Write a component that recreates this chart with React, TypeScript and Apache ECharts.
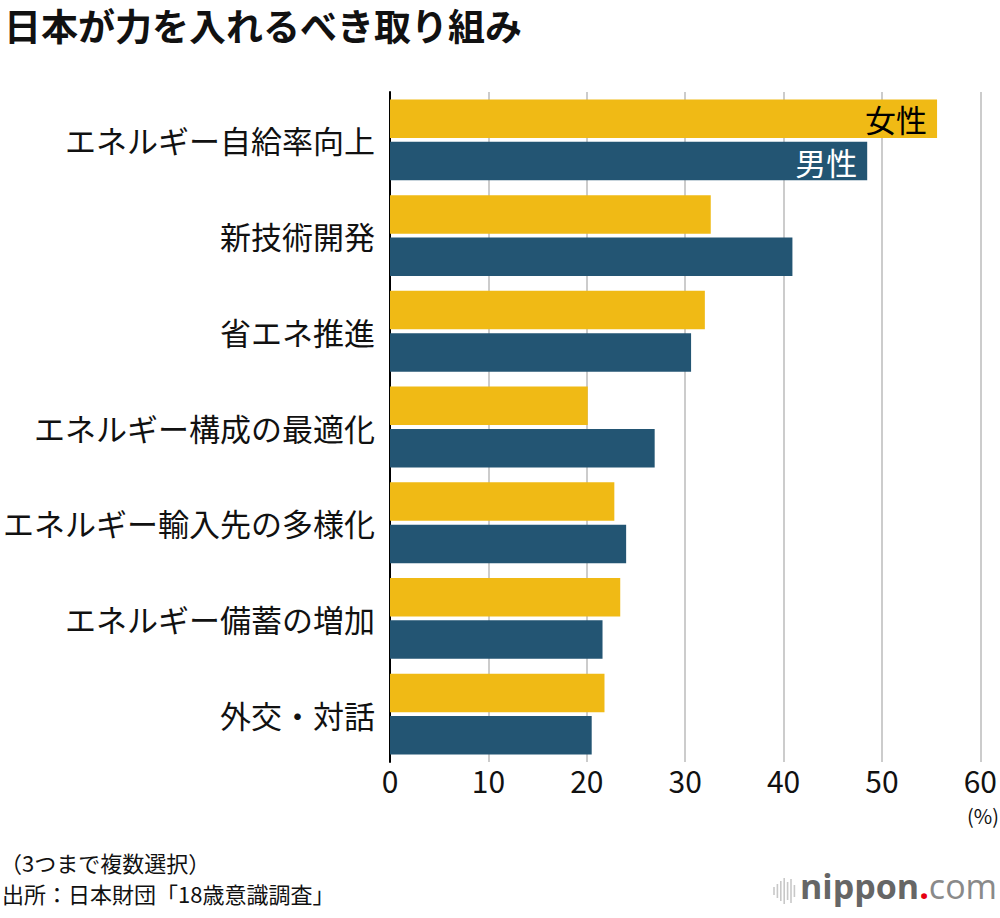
import React, { useEffect, useRef } from "react";
import * as echarts from "echarts";

// Categories, top to bottom
const categories = [
  "エネルギー自給率向上",
  "新技術開発",
  "省エネ推進",
  "エネルギー構成の最適化",
  "エネルギー輸入先の多様化",
  "エネルギー備蓄の増加",
  "外交・対話",
];

const femaleValues = [55.6, 32.6, 32.0, 20.1, 22.8, 23.4, 21.8];
const maleValues = [48.5, 40.9, 30.6, 26.9, 24.0, 21.6, 20.5];

const xTicks = [0, 10, 20, 30, 40, 50, 60];

const FONT = '"Noto Sans CJK JP", "Noto Sans", sans-serif';
const YELLOW = "#F0BA15";
const BLUE = "#235573";

const App: React.FC = () => {
  const chartRef = useRef<HTMLDivElement>(null);

  useEffect(() => {
    if (!chartRef.current) return;
    const chart = echarts.init(chartRef.current, undefined, { renderer: "svg" });

    // logo bars (decorative)
    const logoBars = [8, 14, 20, 26, 18, 24, 12].map((h, i) => ({
      type: "line",
      shape: { x1: 774 + i * 3.4, y1: 891 - h / 2, x2: 774 + i * 3.4, y2: 891 + h / 2 },
      style: { stroke: "#c8c8c8", lineWidth: 1.6 },
    }));

    const option: echarts.EChartsOption = {
      animation: false,
      backgroundColor: "#ffffff",
      textStyle: { fontFamily: FONT },
      grid: {
        left: 388,
        right: 10,
        top: 92,
        bottom: 156,
        containLabel: false,
      },
      xAxis: {
        type: "value",
        min: 0,
        max: xTicks[xTicks.length - 1],
        interval: 10,
        axisLine: { show: false },
        axisTick: { show: false },
        axisLabel: {
          color: "#111111",
          fontSize: 30,
          lineHeight: 28,
          fontFamily: FONT,
          margin: 4,
        },
        splitLine: {
          show: true,
          lineStyle: { color: "#cccccc", width: 2 },
        },
      },
      yAxis: {
        type: "category",
        data: categories,
        inverse: true,
        axisLine: { show: true, lineStyle: { color: "#000000", width: 2 } },
        axisTick: { show: false },
        axisLabel: {
          color: "#111111",
          fontSize: 31,
          fontFamily: FONT,
          margin: 15,
        },
      },
      series: [
        {
          name: "女性",
          type: "bar",
          data: femaleValues.map((v, i) =>
            i === 0
              ? {
                  value: v,
                  label: {
                    show: true,
                    position: "insideRight",
                    formatter: "女性",
                    color: "#000000",
                    fontSize: 31,
                    fontFamily: FONT,
                    distance: 10,
                  },
                }
              : v
          ),
          barWidth: 38.5,
          barGap: "10%",
          itemStyle: { color: YELLOW },
          z: 3,
        },
        {
          name: "男性",
          type: "bar",
          data: maleValues.map((v, i) =>
            i === 0
              ? {
                  value: v,
                  label: {
                    show: true,
                    position: "insideRight",
                    formatter: "男性",
                    color: "#ffffff",
                    fontSize: 31,
                    fontFamily: FONT,
                    distance: 10,
                  },
                }
              : v
          ),
          barWidth: 38.5,
          itemStyle: { color: BLUE },
          z: 3,
        },
      ],
      graphic: [
        {
          type: "text",
          left: 4,
          top: 6,
          style: {
            text: "日本が力を入れるべき取り組み",
            fontSize: 37,
            fontWeight: "bold",
            fontFamily: FONT,
            fill: "#111111",
          },
        },
        {
          type: "text",
          right: 1,
          top: 805,
          style: {
            text: "(%)",
            fontSize: 20,
            lineHeight: 20,
            fontFamily: FONT,
            fill: "#111111",
          },
        },
        {
          type: "text",
          left: 0,
          top: 851,
          style: {
            text: "（3つまで複数選択）",
            fontSize: 22,
            fontFamily: FONT,
            fill: "#111111",
          },
        },
        {
          type: "text",
          left: 2,
          top: 882,
          style: {
            text: "出所：日本財団「18歳意識調査」",
            fontSize: 22,
            fontFamily: FONT,
            fill: "#111111",
          },
        },
        ...logoBars,
        {
          type: "text",
          left: 800,
          top: 869,
          style: {
            text: "{a|nippon}{b|.}{c|com}",
            rich: {
              a: { fontSize: 34, fontWeight: "bold", fill: "#666666", fontFamily: '"Open Sans", sans-serif' },
              b: { fontSize: 34, fontWeight: "bold", fill: "#e60012", fontFamily: '"Open Sans", sans-serif' },
              c: { fontSize: 34, fontWeight: "normal", fill: "#8a8a8a", fontFamily: '"Open Sans", sans-serif' },
            },
          },
        },
      ],
    } as echarts.EChartsOption;

    chart.setOption(option);

    return () => {
      chart.dispose();
    };
  }, []);

  return (
    <div
      ref={chartRef}
      style={{ position: "absolute", left: 0, top: 0, width: 1000, height: 918 }}
    />
  );
};

export default App;
